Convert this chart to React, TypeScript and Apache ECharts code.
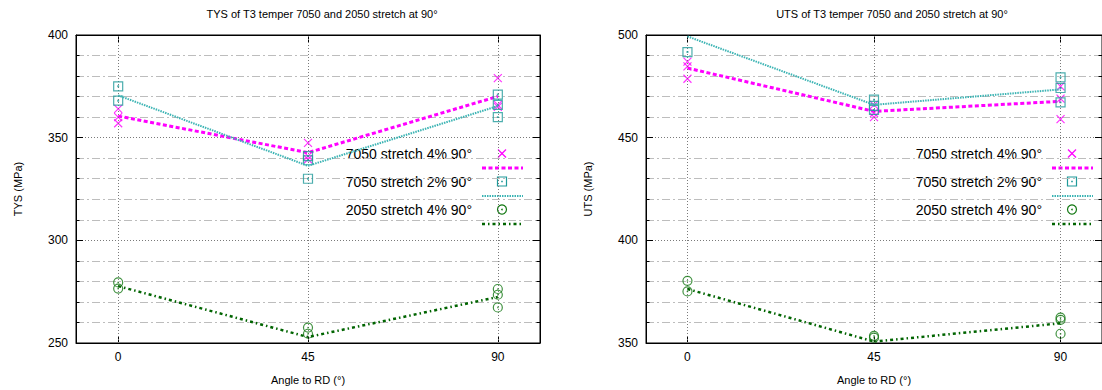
import React, { useEffect, useRef } from "react";
import * as echarts from "echarts";

// ---------- data ----------
const angleTicks = [0, 45, 90];
const lineAngles = [0, 45, 90];

// TYS (MPa) individual measurements [angle, value]
const tys7050s4Pts = [[0, 364], [0, 360], [0, 357], [45, 347.5], [45, 341], [45, 339.5], [90, 379], [90, 366], [90, 365]];
const tys7050s2Pts = [[0, 375], [0, 368], [45, 341], [45, 339], [45, 330], [90, 371], [90, 366], [90, 360]];
const tys2050s4Pts = [[0, 279.5], [0, 276.5], [45, 257.5], [45, 254.5], [90, 276.3], [90, 273.5], [90, 267.3]];
// TYS mean lines
const tys7050s4Line = [360.5, 342.7, 370.1];
const tys7050s2Line = [370.6, 336.3, 365.4];
const tys2050s4Line = [277.7, 252.9, 272.4];

// UTS (MPa) individual measurements
const uts7050s4Pts = [[0, 487], [0, 484.7], [0, 478.7], [45, 466], [45, 462], [45, 460], [90, 475], [90, 469], [90, 459]];
const uts7050s2Pts = [[0, 491.7], [45, 468.5], [45, 465.5], [45, 463.5], [90, 479.4], [90, 474.2], [90, 467.2]];
const uts2050s4Pts = [[0, 380.3], [0, 375.1], [45, 353.5], [45, 352.6], [90, 362.4], [90, 361.3], [90, 354.5]];
// UTS mean lines
const uts7050s4Line = [483.9, 462.8, 467.7];
const uts7050s2Line = [499.3, 466.0, 473.5];
const uts2050s4Line = [376.3, 350.7, 359.6];

const legendLabels = ["7050 stretch 4% 90°", "7050 stretch 2% 90°", "2050 stretch 4% 90°"];
const titles = ["TYS of T3 temper 7050 and 2050 stretch at 90°", "UTS of T3 temper 7050 and 2050 stretch at 90°"];
const yNames = ["TYS (MPa)", "UTS (MPa)"];
const xName = "Angle to RD (°)";
const yRanges = [[250, 400], [350, 500]];

// ---------- styles ----------
const FONT = "'Liberation Sans', Arial, Helvetica, sans-serif";
const MAG = "#ff00ff";
const TEAL_M = "#1f9a9a";
const TEAL_L = "#3cb4b4";
const GRN_M = "#117711";
const GRN_L = "#006400";
const X_PATH = "path://M0,0L10,10M10,0L0,10";
const SQ_PATH = "path://M0,0L10,0L10,10L0,10Z M4.6,4.6L5.4,4.6L5.4,5.4L4.6,5.4Z";
const CI_PATH = "path://M0,5A5,5,0,1,1,10,5A5,5,0,1,1,0,5Z M4.7,5A0.3,0.3,0,1,1,5.3,5A0.3,0.3,0,1,1,4.7,5Z";

const GRIDS = [
  { left: 76, top: 35, width: 464, height: 308 },
  { left: 646, top: 35, width: 464, height: 308 },
];

const MAG_DASH = [4, 2.5];
const TEAL_DASH = [1.5, 1];
const GRN_DASH = [3, 3, 1.5, 3];

function buildOption() {
  const grid = GRIDS.map((g) => ({ ...g, show: true, borderColor: "#000", borderWidth: 1, containLabel: false }));
  const xAxis: any[] = [];
  const yAxis: any[] = [];
  const series: any[] = [];
  const graphic: any[] = [];

  GRIDS.forEach((g, gi) => {
    const [ymin, ymax] = yRanges[gi];
    const xBase = {
      gridIndex: gi,
      type: "value",
      min: -10,
      max: 100,
      axisLine: { show: true, onZero: false, lineStyle: { color: "#000", width: 1 } },
      axisTick: { show: true, inside: true, length: 7, customValues: angleTicks, lineStyle: { color: "#000" } },
      splitLine: { show: false },
    };
    xAxis.push({
      ...xBase,
      position: "bottom",
      name: xName,
      nameLocation: "middle",
      nameGap: 31,
      nameTextStyle: { fontSize: 11, color: "#000", fontFamily: FONT },
      axisLabel: { show: true, customValues: angleTicks, margin: 8, fontSize: 12, color: "#000", fontFamily: FONT },
    });
    xAxis.push({ ...xBase, position: "top", axisLabel: { show: false, customValues: angleTicks } });

    const yBase = {
      gridIndex: gi,
      type: "value",
      min: ymin,
      max: ymax,
      interval: 50,
      axisLine: { show: true, onZero: false, lineStyle: { color: "#000", width: 1 } },
      axisTick: { show: true, inside: true, length: 7, lineStyle: { color: "#000" } },
      minorTick: { show: true, splitNumber: 5, length: 3.5, lineStyle: { color: "#000" } },
    };
    yAxis.push({
      ...yBase,
      position: "left",
      name: yNames[gi],
      nameLocation: "middle",
      nameGap: 53,
      nameRotate: 90,
      nameTextStyle: { fontSize: 11, color: "#000", fontFamily: FONT },
      axisLabel: { margin: 8, fontSize: 12, color: "#000", fontFamily: FONT },
      splitLine: { show: true, lineStyle: { color: "#7a7a7a", type: [1, 2], width: 1 } },
      minorSplitLine: { show: true, lineStyle: { color: "#bdbdbd", type: [8, 3, 2, 3], width: 1 } },
    });
    yAxis.push({ ...yBase, position: "right", axisLabel: { show: false }, splitLine: { show: false } });

    const xi = gi * 2;
    const yi = gi * 2;
    const pts = gi === 0 ? [tys7050s4Pts, tys7050s2Pts, tys2050s4Pts] : [uts7050s4Pts, uts7050s2Pts, uts2050s4Pts];
    const lines = gi === 0 ? [tys7050s4Line, tys7050s2Line, tys2050s4Line] : [uts7050s4Line, uts7050s2Line, uts2050s4Line];
    const markers = [
      { sym: X_PATH, size: 8, col: MAG },
      { sym: SQ_PATH, size: 9, col: TEAL_M },
      { sym: CI_PATH, size: 9, col: GRN_M },
    ];
    const lineStyles = [
      { color: MAG, width: 3, type: MAG_DASH },
      { color: TEAL_L, width: 2, type: TEAL_DASH },
      { color: GRN_L, width: 2.5, type: GRN_DASH },
    ];

    // vertical grid lines at the angle ticks
    series.push({
      type: "line",
      xAxisIndex: xi,
      yAxisIndex: yi,
      data: [],
      silent: true,
      z: 1,
      markLine: {
        silent: true,
        symbol: "none",
        label: { show: false },
        lineStyle: { color: "#7a7a7a", type: [1, 2], width: 1 },
        data: angleTicks.map((a) => ({ xAxis: a })),
      },
    });

    for (let k = 0; k < 3; k++) {
      series.push({
        type: "scatter",
        xAxisIndex: xi,
        yAxisIndex: yi,
        data: pts[k],
        symbol: markers[k].sym,
        symbolSize: markers[k].size,
        clip: true,
        z: 3 + k * 2,
        itemStyle: { color: "rgba(0,0,0,0)", borderColor: markers[k].col, borderWidth: 1.2 },
      });
      series.push({
        type: "line",
        xAxisIndex: xi,
        yAxisIndex: yi,
        data: lineAngles.map((a, i) => [a, lines[k][i]]),
        symbol: "none",
        clip: true,
        z: 4 + k * 2,
        lineStyle: lineStyles[k],
      });
    }

    // title
    graphic.push({
      type: "text",
      x: g.left + g.width / 2 + 14,
      y: 14,
      style: { text: titles[gi], font: `11px ${FONT}`, fill: "#000", align: "center", verticalAlign: "middle", textAlign: "center", textVerticalAlign: "middle" },
    });

    // legend (gnuplot style: text, marker, line sample below)
    const off = gi * 570;
    const rowY = [153.5, 181.5, 209.5];
    for (let k = 0; k < 3; k++) {
      const ty = rowY[k];
      graphic.push({
        type: "text",
        x: 472 + off,
        y: ty,
        style: { text: legendLabels[k], font: `14px ${FONT}`, fill: "#000", align: "right", verticalAlign: "middle", textAlign: "right", textVerticalAlign: "middle" },
      });
      const mx = 502 + off;
      if (k === 0) {
        graphic.push({ type: "line", shape: { x1: mx - 4, y1: ty - 4, x2: mx + 4, y2: ty + 4 }, style: { stroke: MAG, lineWidth: 1.2 } });
        graphic.push({ type: "line", shape: { x1: mx + 4, y1: ty - 4, x2: mx - 4, y2: ty + 4 }, style: { stroke: MAG, lineWidth: 1.2 } });
      } else if (k === 1) {
        graphic.push({ type: "rect", shape: { x: mx - 4.5, y: ty - 4.5, width: 9, height: 9 }, style: { fill: "none", stroke: TEAL_M, lineWidth: 1.2 } });
        graphic.push({ type: "rect", shape: { x: mx - 0.8, y: ty - 0.8, width: 1.6, height: 1.6 }, style: { fill: TEAL_M } });
      } else {
        graphic.push({ type: "circle", shape: { cx: mx, cy: ty, r: 4.5 }, style: { fill: "none", stroke: GRN_M, lineWidth: 1.2 } });
        graphic.push({ type: "circle", shape: { cx: mx, cy: ty, r: 0.8 }, style: { fill: GRN_M } });
      }
      const ls = lineStyles[k];
      graphic.push({
        type: "line",
        shape: { x1: 482 + off, y1: ty + 14.5, x2: 523 + off, y2: ty + 14.5 },
        style: { stroke: ls.color, lineWidth: ls.width, lineDash: ls.type },
      });
    }
  });

  return {
    animation: false,
    backgroundColor: "#ffffff",
    textStyle: { fontFamily: FONT },
    grid,
    xAxis,
    yAxis,
    series,
    graphic,
  };
}

export default function App() {
  const ref = useRef<HTMLDivElement | null>(null);
  useEffect(() => {
    if (!ref.current) return;
    const chart = echarts.init(ref.current, undefined, { renderer: "svg" });
    chart.setOption(buildOption() as any);
    return () => chart.dispose();
  }, []);
  return (
    <div
      ref={ref}
      style={{ position: "fixed", left: 0, top: 0, width: 1102, height: 390, background: "#fff" }}
    />
  );
}
